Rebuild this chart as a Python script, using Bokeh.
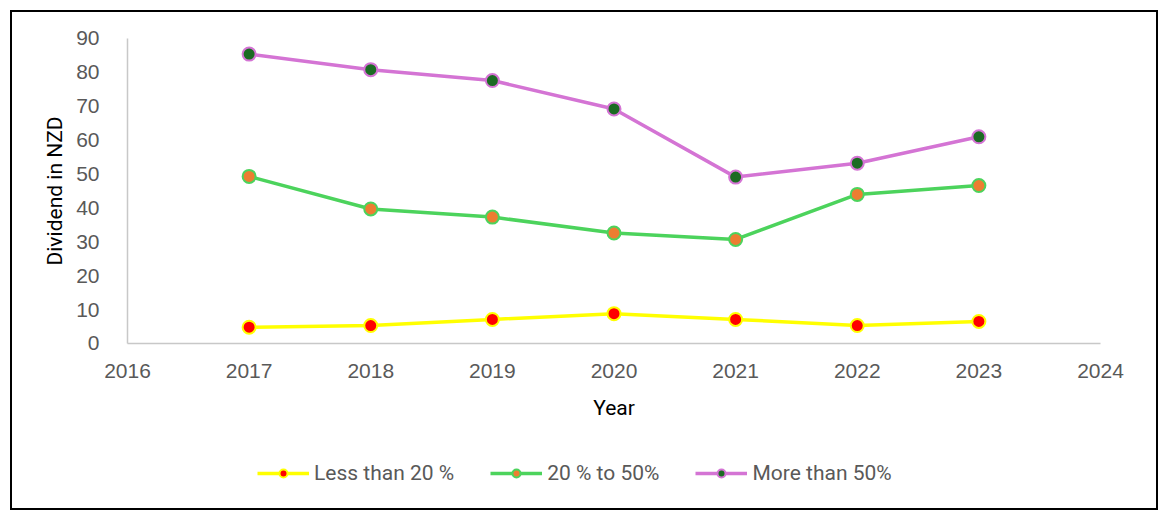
from bokeh.plotting import figure
from bokeh.models import Legend, LegendItem, FixedTicker
from bokeh.embed import file_html
from bokeh.resources import INLINE

years = [2017, 2018, 2019, 2020, 2021, 2022, 2023]
less_than_20 = [4.8, 5.3, 7.1, 8.8, 7.1, 5.3, 6.5]
between_20_50 = [49.3, 39.7, 37.3, 32.6, 30.7, 44.0, 46.6]
more_than_50 = [85.4, 80.8, 77.6, 69.2, 49.1, 53.2, 61.0]
x_ticks = [2016, 2017, 2018, 2019, 2020, 2021, 2022, 2023, 2024]
y_ticks = [0, 10, 20, 30, 40, 50, 60, 70, 80, 90]
labels = ["Less than 20 %", "20 % to 50%", "More than 50%"]

# the frame fills the whole bordered box so that axes (at fixed locations),
# their labels and the legend all sit inside it without clipping
p = figure(frame_width=1144, frame_height=496, output_backend="svg", toolbar_location=None,
           x_range=(2015.0545, 2024.4604), y_range=(-48.69, 97.67),
           min_border_left=0, min_border_right=0, min_border_top=0, min_border_bottom=0)
p.styles = {"border": "2px solid black", "margin-left": "10px", "margin-top": "10px"}
p.outline_line_color = None
p.xgrid.visible = False
p.ygrid.visible = False

series = [
    (less_than_20, "#FFFF00", "#FF0000"),
    (between_20_50, "#4CD35C", "#ED7D31"),
    (more_than_50, "#D474D4", "#1B6B23"),
]
items = []
for (vals, lc, fc), lab in zip(series, labels):
    l = p.line(years, vals, line_color=lc, line_width=3.5)
    s = p.scatter(years, vals, size=13, fill_color=fc, line_color=lc, line_width=2)
    items.append(LegendItem(label=lab, renderers=[l, s]))

for ax in (p.xaxis[0], p.yaxis[0]):
    ax.axis_line_color = "#C8C8C8"
    ax.axis_line_width = 1.5
    ax.major_tick_line_color = None
    ax.minor_tick_line_color = None
    ax.major_label_text_color = "#595959"
    ax.major_label_text_font = "Liberation Sans"
    ax.major_label_text_font_size = "21px"
    ax.axis_label_text_font = "Roboto"
    ax.axis_label_text_font_style = "normal"
    ax.axis_label_text_font_size = "21px"
    ax.axis_label_text_color = "#000000"

p.xaxis.ticker = FixedTicker(ticks=x_ticks)
p.yaxis.ticker = FixedTicker(ticks=y_ticks)
p.xaxis.fixed_location = 0
p.yaxis.fixed_location = 2016
p.xaxis.bounds = (2016, 2024)
p.yaxis.bounds = (0, 90)
p.xaxis.axis_label = "Year"
p.yaxis.axis_label = "Dividend in NZD"
p.xaxis.major_label_standoff = 15
p.xaxis.axis_label_standoff = 14
p.yaxis.major_label_standoff = 22
p.yaxis.axis_label_standoff = 6

legend = Legend(items=items, orientation="horizontal", location=(245, 23),
                glyph_width=52, label_standoff=5, spacing=36,
                label_text_font="Roboto", label_text_font_size="21px",
                label_text_color="#595959", border_line_color=None,
                background_fill_alpha=0, margin=0, padding=0)
p.add_layout(legend, "center")

open("out.html", "w").write(file_html(p, INLINE))
